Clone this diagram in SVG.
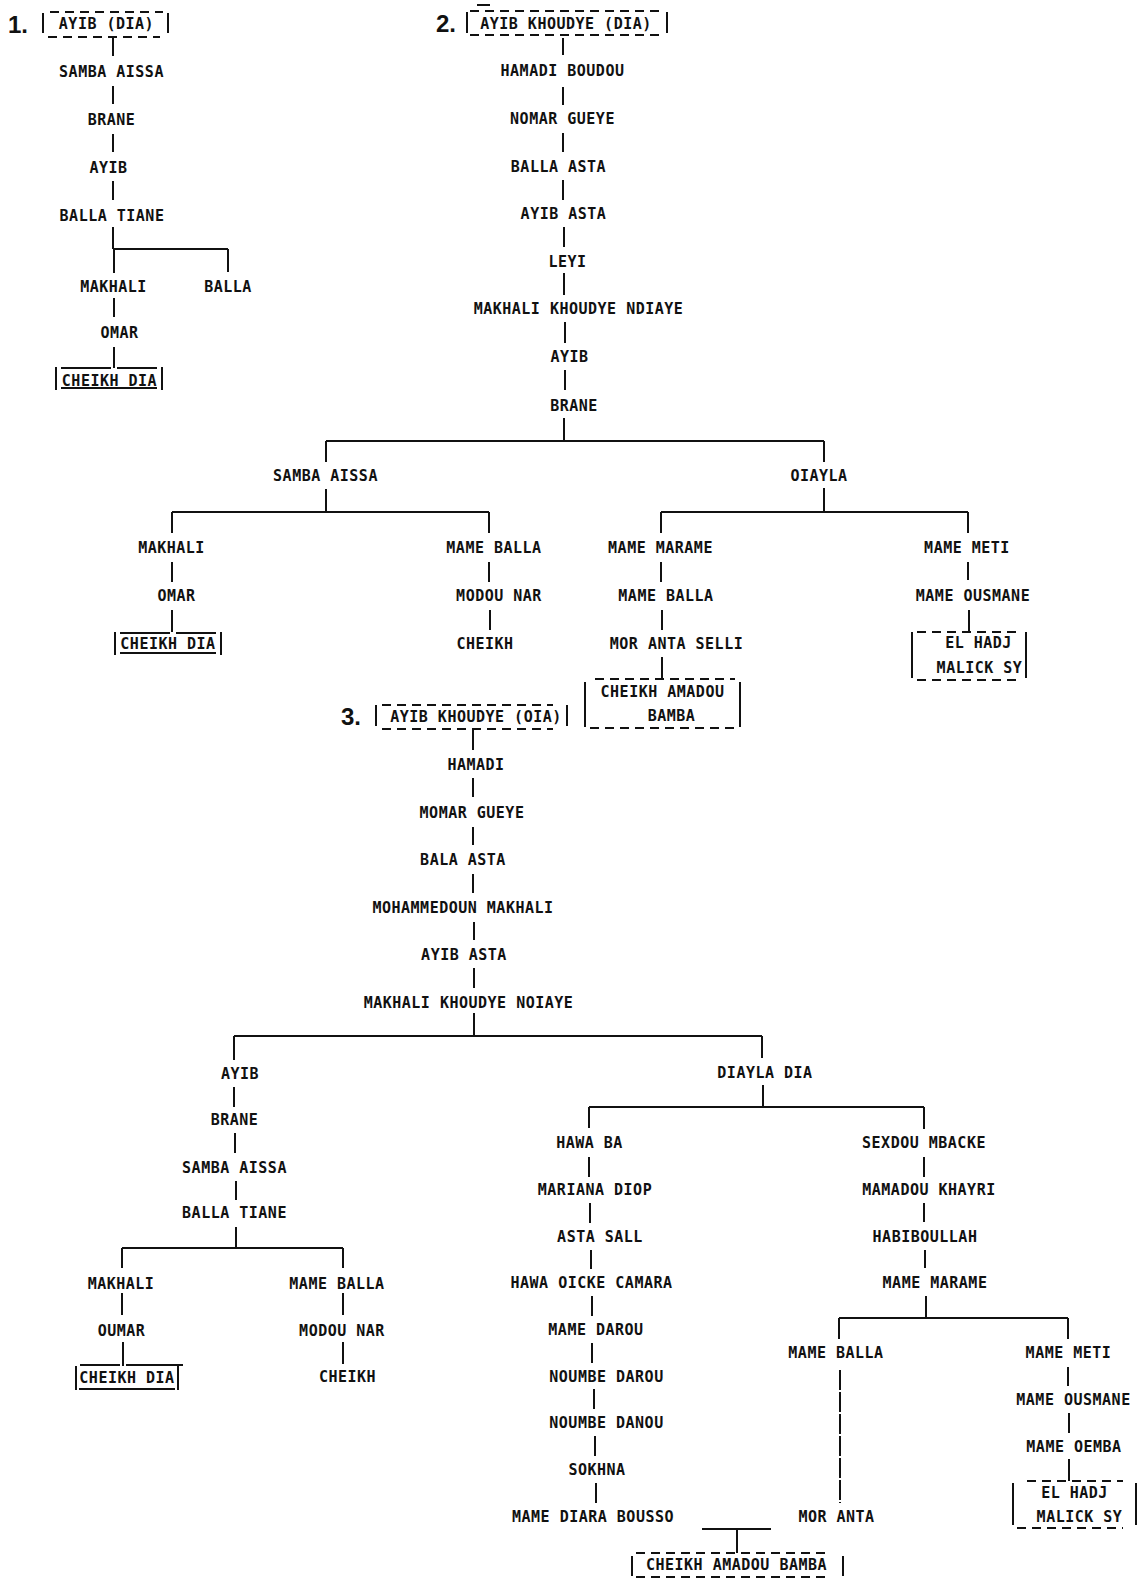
<svg xmlns="http://www.w3.org/2000/svg" width="1139" height="1578" viewBox="0 0 1139 1578">
  <style>
    .t { font-family: "DejaVu Sans Mono", "Liberation Mono", monospace; font-size: 15px; letter-spacing: 0.5px; font-weight: bold; text-anchor: middle; fill: #111; }
    .num { font-family: "Liberation Sans", "DejaVu Sans", sans-serif; font-size: 24px; font-weight: bold; fill: #111; }
    .ln { stroke: #111; stroke-width: 2; fill: none; }
    .dash { stroke: #111; stroke-width: 2; fill: none; stroke-dasharray: 9 6; }
  </style>
  <rect width="1139" height="1578" fill="#fff"/>

  <!-- ===== Connectors ===== -->
  <g id="connectors" class="ln">
    <!-- tree 1 -->
    <path d="M113 38V56M113 86V104M113 134V152M113 181V200M113 227V249M113 249H228M114 249V273M228 249V272M114 298V317M114 347V368"/>
    <!-- tree 2 trunk -->
    <path d="M563 38V55M563 87V105M563 133V152M563 180V200M564 227V247M564 273V295M565 322V343M565 370V390M564 418V441"/>
    <path d="M326 441H824M326 441V462M824 441V462"/>
    <path d="M326 489V512M172 512H489M172 512V533M489 512V533"/>
    <path d="M824 488V512M661 512H968M661 512V533M968 512V533"/>
    <path d="M172 562V582M489 562V582M661 562V582M968 562V580"/>
    <path d="M172 610V632M490 610V630M662 610V630M969 610V632M662 657V680"/>
    <!-- tree 3 trunk -->
    <path d="M473 730V750M473 778V797M473 827V845M473 874V893M474 922V940M474 968V988M474 1013V1036"/>
    <path d="M234 1036H762M234 1036V1060M762 1036V1058"/>
    <!-- tree 3 left -->
    <path d="M234 1087V1107M235 1133V1153M236 1181V1200M236 1227V1248M122 1248H343M122 1248V1268M343 1248V1268"/>
    <path d="M122 1293V1315M343 1293V1315M123 1342V1366M343 1342V1364"/>
    <!-- tree 3 right -->
    <path d="M763 1085V1107M589 1107H924M589 1107V1128M924 1107V1129"/>
    <path d="M589 1157V1177M590 1203V1223M591 1250V1269M592 1296V1316M592 1343V1363M594 1389V1409M595 1436V1456M596 1483V1503"/>
    <path d="M924 1157V1177M924 1203V1222M925 1250V1268M926 1296V1318M839 1318H1068M839 1318V1339M1068 1318V1339"/>
    <path d="M840 1370V1503" stroke-dasharray="20 2"/>
    <path d="M1068 1367V1386M1069 1413V1433M1069 1459V1481"/>
    <path d="M702 1529H771M737 1529V1553"/>
  </g>

  <!-- ===== Tree 1 ===== -->
  <g id="label-1"><text class="num" x="8" y="33">1.</text></g>
  <g id="t1-ayib-dia">
    <path class="ln" d="M43 13V33M168 13V33"/>
    <path class="dash" d="M50 12H163M48 37H160"/>
    <text class="t" x="106.5" y="29">AYIB (DIA)</text>
  </g>
  <g id="t1-samba-aissa"><text class="t" x="111.5" y="77">SAMBA AISSA</text></g>
  <g id="t1-brane"><text class="t" x="111.5" y="125">BRANE</text></g>
  <g id="t1-ayib"><text class="t" x="108.5" y="173">AYIB</text></g>
  <g id="t1-balla-tiane"><text class="t" x="112" y="221">BALLA TIANE</text></g>
  <g id="t1-makhali"><text class="t" x="113.5" y="292">MAKHALI</text></g>
  <g id="t1-balla"><text class="t" x="228" y="292">BALLA</text></g>
  <g id="t1-omar"><text class="t" x="119.5" y="338">OMAR</text></g>
  <g id="t1-cheikh-dia">
    <path class="ln" d="M56 367V390M162 367V390M61 368H111M117 368H157M61 388H157"/>
    <text class="t" x="109.5" y="386">CHEIKH DIA</text>
  </g>

  <!-- ===== Tree 2 ===== -->
  <g id="label-2"><text class="num" x="436" y="32">2.</text></g>
  <g id="t2-ayib-khoudye">
    <path class="ln" d="M467 12V33M667 12V33M477 5H490"/>
    <path class="dash" d="M470 11H662M470 35H662"/>
    <text class="t" x="566" y="29">AYIB KHOUDYE (DIA)</text>
  </g>
  <g id="t2-hamadi-boudou"><text class="t" x="562.5" y="76">HAMADI BOUDOU</text></g>
  <g id="t2-nomar-gueye"><text class="t" x="562.5" y="124">NOMAR GUEYE</text></g>
  <g id="t2-balla-asta"><text class="t" x="558.5" y="172">BALLA ASTA</text></g>
  <g id="t2-ayib-asta"><text class="t" x="563.5" y="219">AYIB ASTA</text></g>
  <g id="t2-leyi"><text class="t" x="567.5" y="267">LEYI</text></g>
  <g id="t2-makhali-khoudye"><text class="t" x="578.5" y="314">MAKHALI KHOUDYE NDIAYE</text></g>
  <g id="t2-ayib"><text class="t" x="569.5" y="362">AYIB</text></g>
  <g id="t2-brane"><text class="t" x="574" y="411">BRANE</text></g>
  <g id="t2-samba-aissa"><text class="t" x="325.5" y="481">SAMBA AISSA</text></g>
  <g id="t2-oiayla"><text class="t" x="819" y="481">OIAYLA</text></g>
  <g id="t2-makhali"><text class="t" x="171.5" y="553">MAKHALI</text></g>
  <g id="t2-mame-balla-a"><text class="t" x="494" y="553">MAME BALLA</text></g>
  <g id="t2-mame-marame"><text class="t" x="660.5" y="553">MAME MARAME</text></g>
  <g id="t2-mame-meti"><text class="t" x="967" y="553">MAME METI</text></g>
  <g id="t2-omar"><text class="t" x="176.5" y="601">OMAR</text></g>
  <g id="t2-modou-nar"><text class="t" x="499" y="601">MODOU NAR</text></g>
  <g id="t2-mame-balla-b"><text class="t" x="666" y="601">MAME BALLA</text></g>
  <g id="t2-mame-ousmane"><text class="t" x="973" y="601">MAME OUSMANE</text></g>
  <g id="t2-cheikh-dia">
    <path class="ln" d="M115 632V655M221 632V655M120 633H170M176 633H216M120 653H216"/>
    <text class="t" x="168" y="649">CHEIKH DIA</text>
  </g>
  <g id="t2-cheikh"><text class="t" x="485" y="649">CHEIKH</text></g>
  <g id="t2-mor-anta-selli"><text class="t" x="676.5" y="649">MOR ANTA SELLI</text></g>
  <g id="t2-el-hadj-malick-sy">
    <path class="ln" d="M912 632V678M1026 632V678"/>
    <path class="dash" d="M917 632H1020M917 680H1022"/>
    <text class="t" x="978.5" y="648">EL HADJ</text>
    <text class="t" x="979.5" y="673">MALICK SY</text>
  </g>
  <g id="t2-cheikh-amadou-bamba">
    <path class="ln" d="M585 682V727M740 682V727"/>
    <path class="dash" d="M595 679H735M590 728H737"/>
    <text class="t" x="662.5" y="697">CHEIKH AMADOU</text>
    <text class="t" x="671.5" y="721">BAMBA</text>
  </g>

  <!-- ===== Tree 3 ===== -->
  <g id="label-3"><text class="num" x="341" y="725">3.</text></g>
  <g id="t3-ayib-khoudye">
    <path class="ln" d="M376 705V726M567 705V726"/>
    <path class="dash" d="M382 705H553M382 729H553"/>
    <text class="t" x="476" y="722">AYIB KHOUDYE (OIA)</text>
  </g>
  <g id="t3-hamadi"><text class="t" x="476" y="770">HAMADI</text></g>
  <g id="t3-momar-gueye"><text class="t" x="472" y="818">MOMAR GUEYE</text></g>
  <g id="t3-bala-asta"><text class="t" x="463" y="865">BALA ASTA</text></g>
  <g id="t3-mohammedoun"><text class="t" x="463" y="913">MOHAMMEDOUN MAKHALI</text></g>
  <g id="t3-ayib-asta"><text class="t" x="464" y="960">AYIB ASTA</text></g>
  <g id="t3-makhali-khoudye"><text class="t" x="468.5" y="1008">MAKHALI KHOUDYE NOIAYE</text></g>
  <g id="t3-ayib"><text class="t" x="240" y="1079">AYIB</text></g>
  <g id="t3-diayla-dia"><text class="t" x="765" y="1078">DIAYLA DIA</text></g>
  <g id="t3-brane"><text class="t" x="234.5" y="1125">BRANE</text></g>
  <g id="t3-samba-aissa"><text class="t" x="234.5" y="1173">SAMBA AISSA</text></g>
  <g id="t3-balla-tiane"><text class="t" x="234.5" y="1218">BALLA TIANE</text></g>
  <g id="t3-makhali"><text class="t" x="121" y="1289">MAKHALI</text></g>
  <g id="t3-mame-balla-a"><text class="t" x="337" y="1289">MAME BALLA</text></g>
  <g id="t3-oumar"><text class="t" x="121.5" y="1336">OUMAR</text></g>
  <g id="t3-modou-nar"><text class="t" x="342" y="1336">MODOU NAR</text></g>
  <g id="t3-cheikh-dia">
    <path class="ln" d="M76 1366V1390M178 1366V1390M80 1365H120M126 1365H183M79 1389H175"/>
    <text class="t" x="127" y="1383">CHEIKH DIA</text>
  </g>
  <g id="t3-cheikh"><text class="t" x="347.5" y="1382">CHEIKH</text></g>
  <g id="t3-hawa-ba"><text class="t" x="589.5" y="1148">HAWA BA</text></g>
  <g id="t3-mariana-diop"><text class="t" x="595" y="1195">MARIANA DIOP</text></g>
  <g id="t3-asta-sall"><text class="t" x="600" y="1242">ASTA SALL</text></g>
  <g id="t3-hawa-oicke"><text class="t" x="591.5" y="1288">HAWA OICKE CAMARA</text></g>
  <g id="t3-mame-darou"><text class="t" x="596" y="1335">MAME DAROU</text></g>
  <g id="t3-noumbe-darou"><text class="t" x="606.5" y="1382">NOUMBE DAROU</text></g>
  <g id="t3-noumbe-danou"><text class="t" x="606.5" y="1428">NOUMBE DANOU</text></g>
  <g id="t3-sokhna"><text class="t" x="597" y="1475">SOKHNA</text></g>
  <g id="t3-mame-diara"><text class="t" x="593" y="1522">MAME DIARA BOUSSO</text></g>
  <g id="t3-sexdou-mbacke"><text class="t" x="924" y="1148">SEXDOU MBACKE</text></g>
  <g id="t3-mamadou-khayri"><text class="t" x="929" y="1195">MAMADOU KHAYRI</text></g>
  <g id="t3-habiboullah"><text class="t" x="925" y="1242">HABIBOULLAH</text></g>
  <g id="t3-mame-marame"><text class="t" x="935" y="1288">MAME MARAME</text></g>
  <g id="t3-mame-balla-b"><text class="t" x="836" y="1358">MAME BALLA</text></g>
  <g id="t3-mame-meti"><text class="t" x="1068.5" y="1358">MAME METI</text></g>
  <g id="t3-mame-ousmane"><text class="t" x="1073.5" y="1405">MAME OUSMANE</text></g>
  <g id="t3-mame-oemba"><text class="t" x="1074" y="1452">MAME OEMBA</text></g>
  <g id="t3-mor-anta"><text class="t" x="836.5" y="1522">MOR ANTA</text></g>
  <g id="t3-el-hadj-malick-sy">
    <path class="ln" d="M1013 1483V1525M1136 1483V1525"/>
    <path class="dash" d="M1027 1481H1123M1017 1528H1123"/>
    <text class="t" x="1074.5" y="1498">EL HADJ</text>
    <text class="t" x="1079.5" y="1522">MALICK SY</text>
  </g>
  <g id="t3-cheikh-amadou-bamba">
    <path class="ln" d="M632 1556V1576M843 1556V1576"/>
    <path class="dash" d="M636 1553H828M636 1577H828"/>
    <text class="t" x="736.5" y="1570">CHEIKH AMADOU BAMBA</text>
  </g>
</svg>
